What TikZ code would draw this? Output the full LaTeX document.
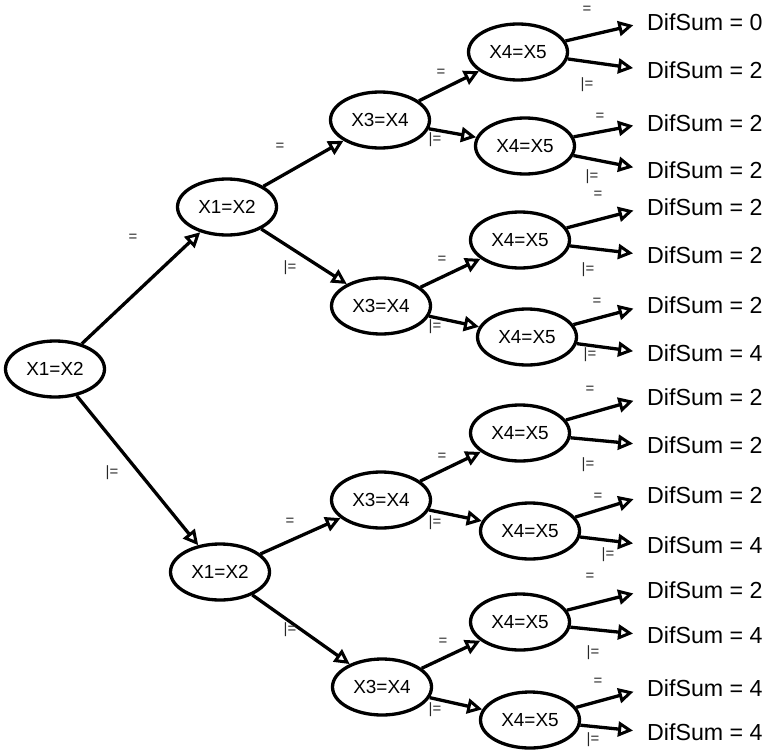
\documentclass[tikz,border=0pt]{standalone}
\usepackage{fontspec}
\setmainfont{Liberation Sans}
\usetikzlibrary{arrows.meta,shapes.geometric}
\begin{document}
\begin{tikzpicture}[x=1bp,y=-1bp,
  cond/.style={draw, ellipse, line width=3.3bp, minimum width=99bp, minimum height=56bp,
    inner sep=0pt, font=\fontsize{19}{21}\selectfont},
  leaf/.style={anchor=west, inner sep=0pt, font=\fontsize{23.3}{26}\selectfont},
  edge/.style={line width=3.3bp, -{Triangle[open,length=15bp,width=15bp,line width=3bp]}},
  toleaf/.style={edge, shorten >=14bp},
  lab/.style={inner sep=0pt, text=black!85, font=\fontsize{15}{16}\selectfont}]
\useasboundingbox (0,0) rectangle (771,750);

% decision nodes
\node[cond] (r)  at (55,369)  {X1=X2};
\node[cond] (a)  at (227,207) {X1=X2};
\node[cond] (b)  at (220,572) {X1=X2};
\node[cond] (c1) at (380,120) {X3=X4};
\node[cond] (c2) at (381,306) {X3=X4};
\node[cond] (c3) at (381,500) {X3=X4};
\node[cond] (c4) at (382,687) {X3=X4};
\node[cond] (d1) at (518,52)  {X4=X5};
\node[cond] (d2) at (525,146) {X4=X5};
\node[cond] (d3) at (520,240) {X4=X5};
\node[cond] (d4) at (527,337) {X4=X5};
\node[cond] (d5) at (520,433) {X4=X5};
\node[cond] (d6) at (530,531) {X4=X5};
\node[cond] (d7) at (520,622) {X4=X5};
\node[cond] (d8) at (530,720) {X4=X5};

% outcomes
\node[leaf] (l1)  at (647,22)  {DifSum = 0};
\node[leaf] (l2)  at (647,70)  {DifSum = 2};
\node[leaf] (l3)  at (647,123) {DifSum = 2};
\node[leaf] (l4)  at (647,170) {DifSum = 2};
\node[leaf] (l5)  at (647,207) {DifSum = 2};
\node[leaf] (l6)  at (647,255) {DifSum = 2};
\node[leaf] (l7)  at (647,305) {DifSum = 2};
\node[leaf] (l8)  at (647,353) {DifSum = 4};
\node[leaf] (l9)  at (647,397) {DifSum = 2};
\node[leaf] (l10) at (647,445) {DifSum = 2};
\node[leaf] (l11) at (647,495) {DifSum = 2};
\node[leaf] (l12) at (647,545) {DifSum = 4};
\node[leaf] (l13) at (647,590) {DifSum = 2};
\node[leaf] (l14) at (647,635) {DifSum = 4};
\node[leaf] (l15) at (647,688) {DifSum = 4};
\node[leaf] (l16) at (647,732) {DifSum = 4};

% branches between decisions
\draw[edge] (r) -- (a);
\draw[edge] (r) -- (b);
\draw[edge] (a) -- (c1);
\draw[edge] (a) -- (c2);
\draw[edge] (b) -- (c3);
\draw[edge] (b) -- (c4);
\draw[edge] (c1) -- (d1);
\draw[edge] (c1) -- (d2);
\draw[edge] (c2) -- (d3);
\draw[edge] (c2) -- (d4);
\draw[edge] (c3) -- (d5);
\draw[edge] (c3) -- (d6);
\draw[edge] (c4) -- (d7);
\draw[edge] (c4) -- (d8);

% branches to outcomes
\foreach \d/\u/\v in {d1/l1/l2, d2/l3/l4, d3/l5/l6, d4/l7/l8,
                      d5/l9/l10, d6/l11/l12, d7/l13/l14, d8/l15/l16} {
  \draw[toleaf] (\d) -- (\u.west);
  \draw[toleaf] (\d) -- (\v.west);
}

% branch labels
\node[lab] (e1) at (133,238) {=};
\node[lab] (e2) at (112,473) {|=};
\node[lab] (e3) at (280,147) {=};
\node[lab] (e4) at (290,268) {|=};
\node[lab] (e5) at (290,522) {=};
\node[lab] (e6) at (290,630) {|=};
\node[lab] (e7) at (441,73)  {=};
\node[lab] (e8) at (435,140) {|=};
\node[lab] (e9) at (442,260) {=};
\node[lab] (e10) at (435,327) {|=};
\node[lab] (e11) at (442,457) {=};
\node[lab] (e12) at (435,523) {|=};
\node[lab] (e13) at (443,642) {=};
\node[lab] (e14) at (435,710) {|=};

\node[lab] (f1)  at (587,10)  {=};
\node[lab] (f2)  at (587,85)  {|=};
\node[lab] (f3)  at (600,117) {=};
\node[lab] (f4)  at (592,177) {|=};
\node[lab] (f5)  at (598,195) {=};
\node[lab] (f6)  at (588,270) {|=};
\node[lab] (f7)  at (597,302) {=};
\node[lab] (f8)  at (590,355) {|=};
\node[lab] (f9)  at (590,390) {=};
\node[lab] (f10) at (588,465) {|=};
\node[lab] (f11) at (598,497) {=};
\node[lab] (f12) at (608,555) {|=};
\node[lab] (f13) at (590,577) {=};
\node[lab] (f14) at (593,653) {|=};
\node[lab] (f15) at (598,682) {=};
\node[lab] (f16) at (593,740) {|=};
\end{tikzpicture}
\end{document}
